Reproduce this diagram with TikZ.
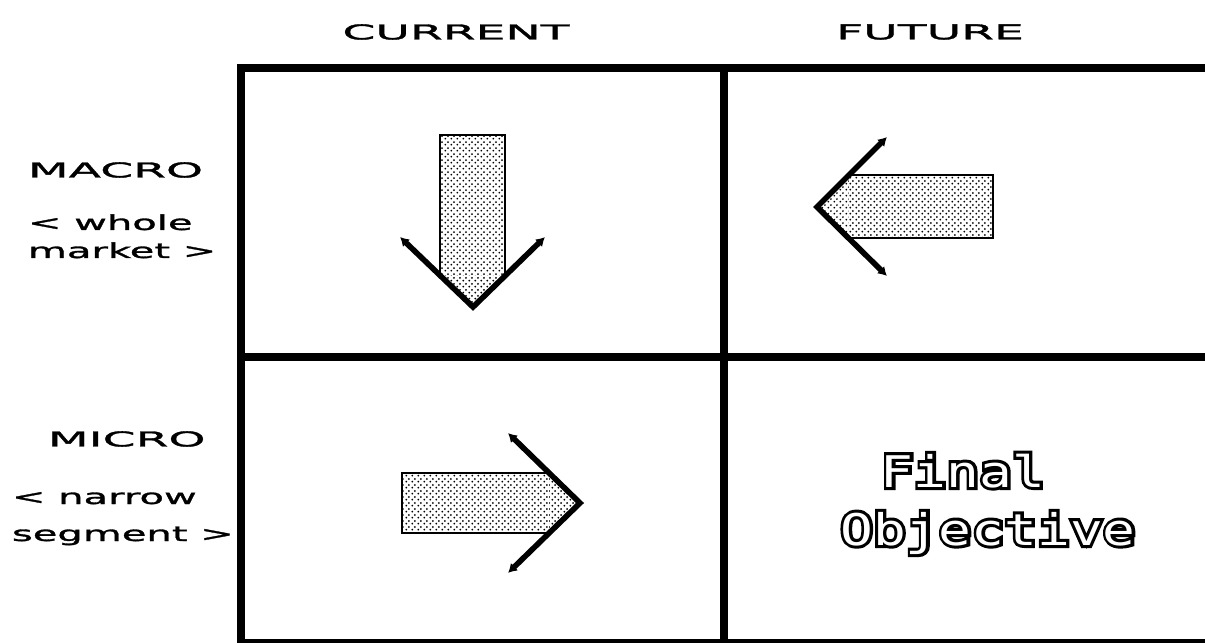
\documentclass[tikz,border=0pt]{standalone}
\usepackage{fontspec}
\setmainfont{DejaVu Sans}
\newfontfamily\capsfont[FakeStretch=2.3,FakeBold=1.5]{DejaVu Sans}
\newfontfamily\lowfont[FakeStretch=1.95,FakeBold=1.5]{DejaVu Sans}
\newfontfamily\outlinefont[FakeStretch=1.25]{DejaVu Sans Mono}
\newfontfamily\outlinebackfont[FakeStretch=1.25,FakeBold=14]{DejaVu Sans Mono}
\usetikzlibrary{arrows.meta,patterns}
\pgfdeclarepatternformonly{stipple}{\pgfpointorigin}{\pgfpoint{4pt}{4pt}}{\pgfpoint{4pt}{4pt}}{%
  \pgfpathcircle{\pgfpoint{1pt}{1pt}}{0.75pt}%
  \pgfpathcircle{\pgfpoint{3pt}{3pt}}{0.75pt}%
  \pgfusepath{fill}}

\begin{document}
\begin{tikzpicture}[x=0.025cm,y=-0.025cm,
    gridline/.style={line width=0.2cm},
    shaft/.style={draw,line width=0.07cm,pattern=stipple},
    chevron/.style={line width=0.14cm,line join=miter,
      {Latex[length=0.22cm,width=0.26cm]}-{Latex[length=0.22cm,width=0.26cm]}},
    capslabel/.style={font=\capsfont\fontsize{14.6}{17}\selectfont},
    lowlabel/.style={font=\lowfont\fontsize{14.6}{17}\selectfont,anchor=base west},
    bigtext/.style={font=\outlinefont\fontsize{31}{36}\selectfont,anchor=base,text=white},
    bigback/.style={font=\outlinebackfont\fontsize{31}{36}\selectfont,anchor=base,text=black}]
  \useasboundingbox (0,0) rectangle (1205,643);
  \clip (0,0) rectangle (1205,643);

  % matrix
  \draw[gridline] (241,68) rectangle (1240,643);
  \draw[gridline] (724,68) -- (724,643);
  \draw[gridline] (241,357) -- (1240,357);

  % column and row headings
  \node[capslabel] (current) at (456,32) {CURRENT};
  \node[capslabel] (future) at (930,32) {FUTURE};
  \node[capslabel,anchor=west] (macro) at (23,170) {MACRO};
  \node[lowlabel] (whole) at (23,230) {< whole};
  \node[lowlabel] (market) at (23,258) {market >};
  \node[capslabel,anchor=west] (micro) at (43,439) {MICRO};
  \node[lowlabel] (narrow) at (7,504) {< narrow};
  \node[lowlabel] (segment) at (7,541) {segment >};

  % macro / current: down
  \coordinate (downtip) at (473,307);
  \filldraw[shaft] (505,276) -- (505,135) -- (440,135) -- (440,275);
  \fill[pattern=stipple] (440,275) -- (505,276) -- (downtip) -- cycle;
  \draw[chevron] (400,237) -- (downtip) -- (545,237);

  % macro / future: left
  \coordinate (lefttip) at (817,207);
  \filldraw[shaft] (849,175) -- (993,175) -- (993,238) -- (848,238);
  \fill[pattern=stipple] (849,175) -- (848,238) -- (lefttip) -- cycle;
  \draw[chevron] (887,137) -- (lefttip) -- (887,276);

  % micro / current: right
  \coordinate (righttip) at (580,503);
  \filldraw[shaft] (549,473) -- (402,473) -- (402,533) -- (549,533);
  \fill[pattern=stipple] (549,473) -- (549,533) -- (righttip) -- cycle;
  \draw[chevron] (508,433) -- (righttip) -- (508,573);

  % micro / future: outlined text
  \node[bigback] (finalback) at (963,487) {Final};
  \node[bigback] (objectiveback) at (988,545) {Objective};
  \node[bigtext] (final) at (finalback.base) {Final};
  \node[bigtext] (objective) at (objectiveback.base) {Objective};
\end{tikzpicture}
\end{document}
